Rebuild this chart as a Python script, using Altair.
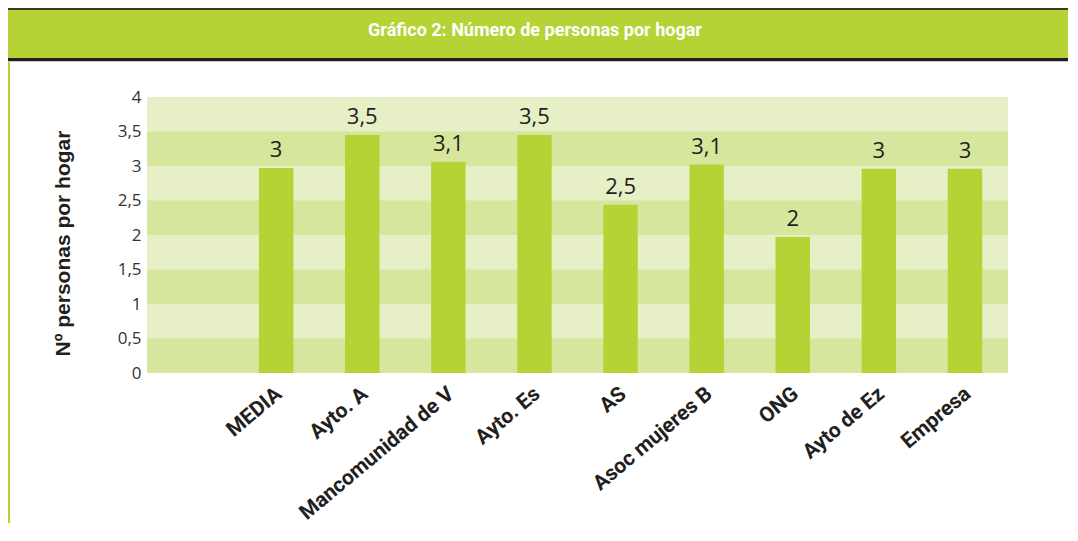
import altair as alt
import pandas as pd

# ---- data ----
categories = ["MEDIA", "Ayto. A", "Mancomunidad de V", "Ayto. Es", "AS",
              "Asoc mujeres B", "ONG", "Ayto de Ez", "Empresa"]
values = [2.97, 3.45, 3.06, 3.45, 2.44, 3.02, 1.97, 2.96, 2.96]
labels = ["3", "3,5", "3,1", "3,5", "2,5", "3,1", "2", "3", "3"]
y_ticks = [0, 0.5, 1, 1.5, 2, 2.5, 3, 3.5, 4]
band_low = [0, 1, 2, 3]
band_high = [0.5, 1.5, 2.5, 3.5]
title_text = "Gráfico 2: Número de personas por hogar"
y_title = "Nº personas por hogar"

# ---- layout constants ----
W, H = 861, 276
PAD_L, PAD_T, PAD_R, PAD_B = 139, 89, 60, 150

GREEN = "#b5d335"
STRIPE_DARK = "#d7e69d"
STRIPE_LIGHT = "#e6efc6"
DARK = "#231f20"

df = pd.DataFrame({"cat": categories, "val": values, "lab": labels})
bands = pd.DataFrame({"lo": band_low, "hi": band_high})
one = alt.Data(values=[{"k": 1}])

domain = [" "] + categories
xscale = alt.Scale(domain=domain, paddingInner=0.6, paddingOuter=0.3)
yscale = alt.Scale(domain=[0, 4], nice=False)

x_axis = alt.Axis(
    title=None, labelAngle=320, labelAlign="right", labelBaseline="middle",
    labelPadding=18, labelOffset=3, labelFont="Roboto", labelFontWeight="bold",
    labelFontSize=21, labelColor=DARK, ticks=False, domain=False, grid=False,
    labelLimit=400, labelOverlap=False,
)
y_axis = alt.Axis(
    values=y_ticks, labelExpr="replace(format(datum.value, '~g'), '.', ',')",
    labelFont="Open Sans", labelFontSize=17, labelColor="#333333",
    ticks=False, domain=False, grid=False, labelPadding=6,
    title=y_title, titleFont="Liberation Sans", titleFontSize=21,
    titleFontWeight="bold", titleColor=DARK, titleAngle=270,
    titleX=-84, titleY=146, titleAlign="center", titleBaseline="middle",
)

stripes = alt.Chart(bands).mark_rect(color=STRIPE_DARK).encode(
    y=alt.Y("lo:Q", scale=yscale, axis=y_axis, title=y_title),
    y2="hi:Q",
    x=alt.value(0), x2=alt.value(W),
)

bars = alt.Chart(df).mark_bar(color=GREEN).encode(
    x=alt.X("cat:N", scale=xscale, axis=x_axis, sort=domain, title=None),
    y=alt.Y("val:Q", scale=yscale, axis=y_axis, title=y_title),
)

texts = alt.Chart(df).mark_text(
    baseline="bottom", dy=-6, font="Open Sans", fontSize=22, color=DARK
).encode(
    x=alt.X("cat:N", scale=xscale, axis=x_axis, sort=domain, title=None),
    y=alt.Y("val:Q", scale=yscale, axis=y_axis, title=y_title),
    text="lab:N",
)

x_left = -PAD_L
x_right = W + PAD_R
top_line = alt.Chart(one).mark_rect(color="#3b3a24").encode(
    x=alt.value(x_left), x2=alt.value(x_right), y=alt.value(-89), y2=alt.value(-87))
banner = alt.Chart(one).mark_rect(color=GREEN).encode(
    x=alt.value(x_left), x2=alt.value(x_right), y=alt.value(-87), y2=alt.value(-39))
bottom_line = alt.Chart(one).mark_rect(color=DARK).encode(
    x=alt.value(x_left), x2=alt.value(x_right), y=alt.value(-39), y2=alt.value(-36))
grey_line = alt.Chart(one).mark_rect(color="#c8c8c8").encode(
    x=alt.value(x_left), x2=alt.value(x_right), y=alt.value(-36), y2=alt.value(-35))
left_line = alt.Chart(one).mark_rect(color=GREEN).encode(
    x=alt.value(x_left), x2=alt.value(x_left + 2), y=alt.value(-35), y2=alt.value(H + PAD_B))
title = alt.Chart(one).mark_text(
    font="Roboto", fontWeight="bold", fontSize=18, color="white",
    align="center", baseline="middle",
).encode(x=alt.value(388), y=alt.value(-66), text=alt.value(title_text))

chart = alt.layer(
    stripes, bars, texts, top_line, banner, bottom_line, grey_line, left_line, title
).properties(
    width=W, height=H,
    padding={"left": PAD_L, "top": PAD_T, "right": PAD_R, "bottom": PAD_B},
    autosize=alt.AutoSizeParams(type="none"),
    background="white",
).configure_view(stroke=None, fill=STRIPE_LIGHT)

chart.save("out.html", embed_options={"renderer": "svg", "actions": False})
